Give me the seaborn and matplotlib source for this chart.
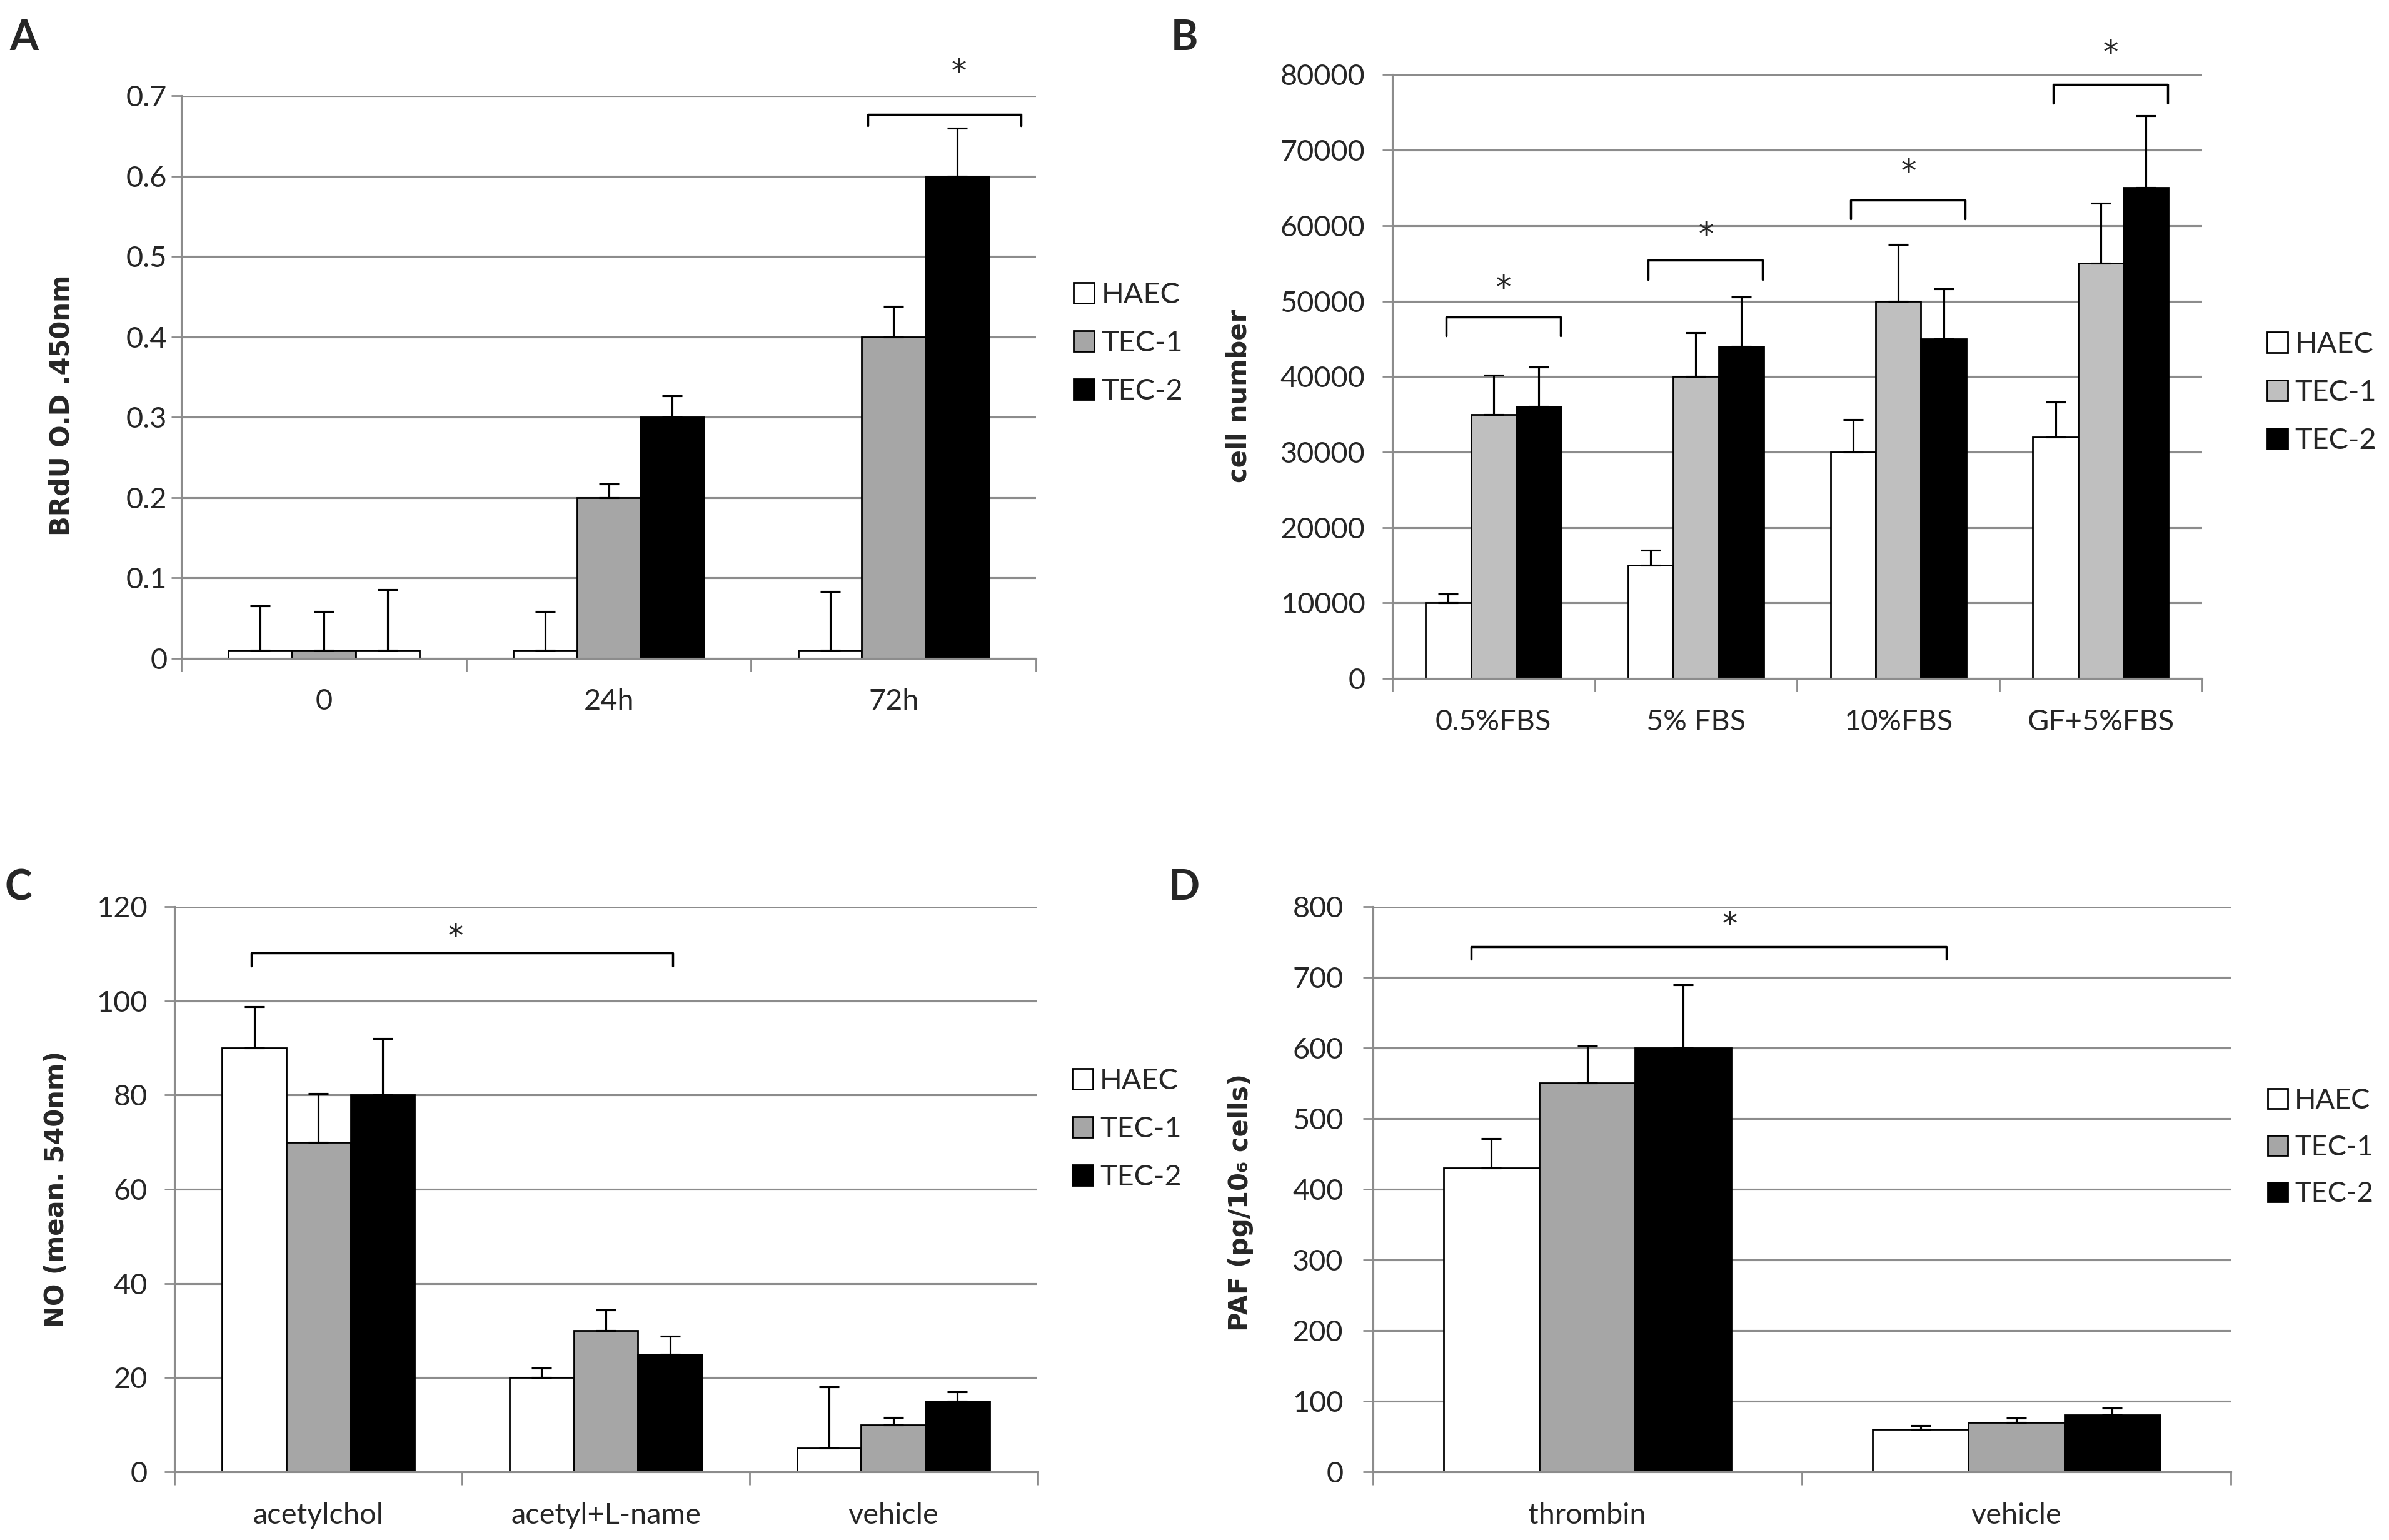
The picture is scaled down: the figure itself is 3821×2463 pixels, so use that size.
import numpy as np
import pandas as pd
import matplotlib
matplotlib.use('Agg')
import matplotlib.pyplot as plt
from matplotlib.patches import Patch
import seaborn as sns

cells = ['HAEC', 'TEC-1', 'TEC-2']

# panel A - BrdU
a_cats = ['0', '24h', '72h']
a_haec = [0.01, 0.01, 0.01]
a_tec1 = [0.01, 0.2, 0.4]
a_tec2 = [0.01, 0.3, 0.6]
a_haec_err = [0.055, 0.048, 0.073]
a_tec1_err = [0.048, 0.017, 0.038]
a_tec2_err = [0.075, 0.027, 0.060]

# panel B - cell number
b_cats = ['0.5%FBS', '5% FBS', '10%FBS', 'GF+5%FBS']
b_haec = [10000, 15000, 30000, 32000]
b_tec1 = [35000, 40000, 50000, 55000]
b_tec2 = [36000, 44000, 45000, 65000]
b_haec_err = [1200, 2000, 4300, 4600]
b_tec1_err = [5200, 5800, 7500, 8000]
b_tec2_err = [5300, 6500, 6600, 9600]

# panel C - NO
c_cats = ['acetylchol', 'acetyl+L-name', 'vehicle']
c_haec = [90, 20, 5]
c_tec1 = [70, 30, 10]
c_tec2 = [80, 25, 15]
c_haec_err = [8.8, 2.0, 13.0]
c_tec1_err = [10.3, 4.4, 1.5]
c_tec2_err = [12.0, 3.8, 2.0]

# panel D - PAF
d_cats = ['thrombin', 'vehicle']
d_haec = [430, 60]
d_tec1 = [550, 70]
d_tec2 = [600, 80]
d_haec_err = [42, 5]
d_tec1_err = [53, 6]
d_tec2_err = [89, 10]

NARROW = ['Lato', 'DejaVu Sans']
GRID = '#8c8c8c'

sns.set_theme(style='white')
plt.rcParams['font.family'] = ['DejaVu Sans']

fig = plt.figure(figsize=(3821 / 250, 2463 / 250), dpi=250)


def panel(rect, cats, vals, errs, gray, ymax, ystep, ylabel, ylab_xy, leg_xy, ypad, fmt, legsize=13.5):
    ax = fig.add_axes(rect)
    n = len(cats)
    df = pd.DataFrame({
        'cond': list(cats) * 3,
        'cell': np.repeat(cells, n),
        'val': np.concatenate(vals),
    })
    colors = ['white', gray, 'black']
    sns.barplot(data=df, x='cond', y='val', hue='cell', hue_order=cells,
                palette=colors, width=0.67, edgecolor='black', linewidth=0.8,
                saturation=1, errorbar=None, legend=False, ax=ax)
    for cont, err in zip(ax.containers, errs):
        xs = [p.get_x() + p.get_width() / 2 for p in cont]
        ys = [p.get_height() for p in cont]
        ax.errorbar(xs, ys, yerr=[np.zeros(len(err)), err], fmt='none',
                    ecolor='black', elinewidth=0.9, capsize=4.5, capthick=0.9)

    ax.set_xlim(-0.5, n - 0.5)
    ax.set_ylim(0, ymax)
    yt = np.arange(0, ymax + ystep / 2, ystep)
    ax.set_yticks(yt, [fmt(v) for v in yt])
    ax.set_xticks(range(n), cats)
    ax.set_xticks(np.arange(-0.5, n), minor=True)
    ax.tick_params(axis='x', which='major', length=0, pad=14, labelsize=13.5)
    ax.tick_params(axis='x', which='minor', length=6, width=0.8, color=GRID, direction='out', bottom=True)
    ax.tick_params(axis='y', length=4.5, width=0.8, color=GRID, direction='out', left=True, pad=ypad, labelsize=13.5)
    for lab in ax.get_xticklabels() + ax.get_yticklabels():
        lab.set_family(NARROW)
    ax.yaxis.grid(True, color=GRID, lw=0.9)
    ax.set_axisbelow(True)
    for s in ['top', 'right']:
        ax.spines[s].set_visible(False)
    for s in ['left', 'bottom']:
        ax.spines[s].set_color(GRID)
        ax.spines[s].set_linewidth(0.9)
    ax.set_xlabel('')
    ax.set_ylabel(ylabel, fontsize=12, fontweight='bold')
    ax.yaxis.set_label_coords(*ylab_xy)

    handles = [Patch(facecolor=c, edgecolor='black', linewidth=0.8) for c in colors]
    ax.legend(handles, cells, loc='center left', bbox_to_anchor=leg_xy, frameon=False,
              prop={'family': NARROW, 'size': legsize}, handlelength=0.7, handleheight=0.7,
              handletextpad=0.25, labelspacing=0.75, borderaxespad=0)
    return ax


def bracket(ax, x0, x1, y, drop, star_x, star_y):
    ax.plot([x0, x0, x1, x1], [y - drop, y, y, y - drop], color='black', lw=1.0, clip_on=False)
    ax.text(star_x, star_y, '*', ha='center', va='center', fontsize=14)


axA = panel([0.0759, 0.5726, 0.3578, 0.3651], a_cats,
            [a_haec, a_tec1, a_tec2], [a_haec_err, a_tec1_err, a_tec2_err],
            '#a6a6a6', 0.7, 0.1, 'BRdU O.D .450nm', (-0.125, 0.45), (1.03, 0.56), 2,
            lambda v: '0' if v == 0 else f'{v:.1f}')
# time 0 TEC-2 bar is drawn white in the original
axA.containers[2][0].set_facecolor('white')
bracket(axA, 2 - 0.09, 2 + 0.447, 0.677, 0.014, 2.23, 0.729)

axB = panel([0.5828, 0.5595, 0.3389, 0.392], b_cats,
            [b_haec, b_tec1, b_tec2], [b_haec_err, b_tec1_err, b_tec2_err],
            '#bfbfbf', 80000, 10000, 'cell number', (-0.173, 0.468), (1.066, 0.4735), 8,
            lambda v: f'{int(v)}')
b_br = [47870, 55400, 63400, 78700]
b_star = [51600, 58700, 67050, 82800]
for i in range(4):
    bracket(axB, i - 0.235, i + 0.33, b_br[i], 2500, i + 0.05, b_star[i])

axC = panel([0.0731, 0.0443, 0.361, 0.367], c_cats,
            [c_haec, c_tec1, c_tec2], [c_haec_err, c_tec1_err, c_tec2_err],
            '#a6a6a6', 120, 20, 'NO (mean. 540nm)', (-0.122, 0.50), (1.027, 0.606), 8,
            lambda v: f'{int(v)}')
bracket(axC, -0.233, 1.232, 110.2, 2.8, 0.478, 113.5)

axD = panel([0.5746, 0.0443, 0.3592, 0.367], d_cats,
            [d_haec, d_tec1, d_tec2], [d_haec_err, d_tec1_err, d_tec2_err],
            '#a6a6a6', 800, 100, 'PAF (pg/10₆ cells)', (-0.139, 0.477), (1.03, 0.574), 9,
            lambda v: f'{int(v)}', legsize=13)
bracket(axD, -0.27, 0.837, 743, 17, 0.333, 773)

for x, y, t in [(0.004, 0.988, 'A'), (0.490, 0.988, 'B'), (0.002, 0.436, 'C'), (0.489, 0.436, 'D')]:
    fig.text(x, y, t, fontsize=19, va='top', ha='left', family=NARROW, fontweight='bold')

fig.savefig('out.png', dpi=250, facecolor='white')
